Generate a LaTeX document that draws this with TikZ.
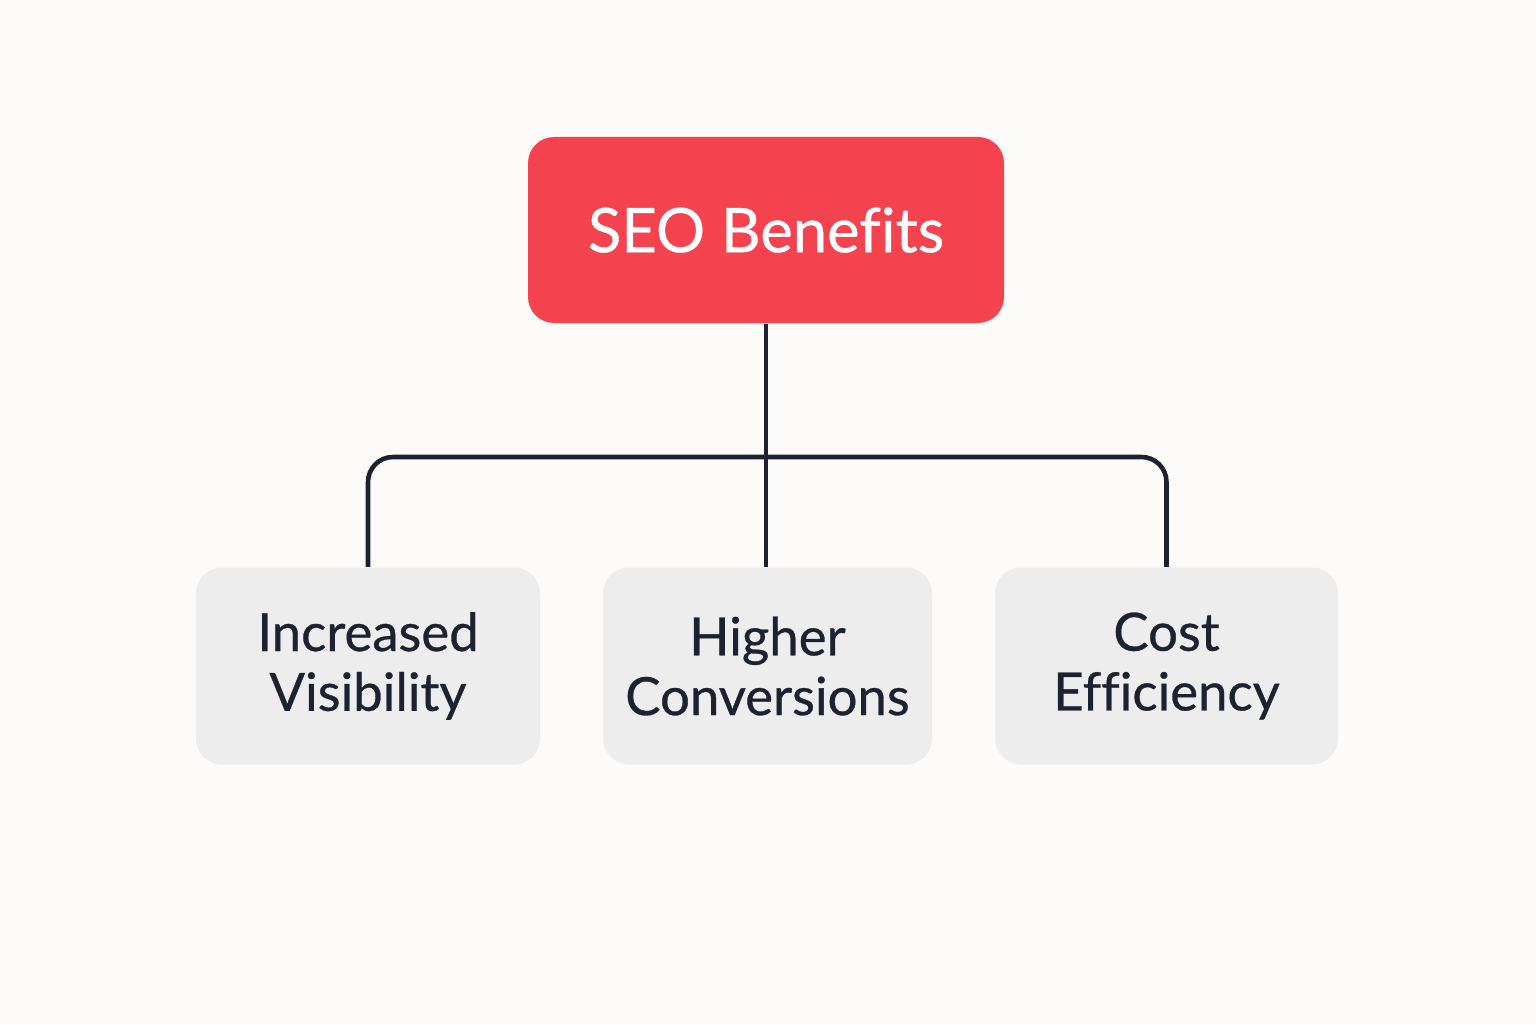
\documentclass[tikz,border=0pt]{standalone}
\usepackage{fontspec}
\setmainfont{Lato}[FakeBold=0.6, Ligatures=NoCommon]
\usetikzlibrary{positioning}
\definecolor{seored}{HTML}{F4434F}
\definecolor{boxgray}{HTML}{EDEDED}
\definecolor{inkdark}{HTML}{1C2230}
\definecolor{paper}{HTML}{FCFBF9}
\begin{document}
\begin{tikzpicture}
	\tikzset{
		topbox/.style={fill=seored, rounded corners=0.26cm, minimum width=4.76cm, minimum height=1.86cm, text=white, font=\fontsize{17.5}{20}\selectfont},
		benefit/.style={fill=boxgray, rounded corners=0.26cm, minimum height=1.97cm, text=inkdark, align=center, font=\fontsize{15}{17}\selectfont},
		link/.style={draw=inkdark, line width=1.3pt, rounded corners=0.25cm}
	}

	\fill[paper] (0,0) rectangle (15.36,10.24);
	\useasboundingbox (0,0) rectangle (15.36,10.24);

	\node[topbox] (seo) at (7.66,7.94) {SEO Benefits};

	\node[benefit, minimum width=3.44cm] (visib) at (3.68,3.58) {Increased\\Visibility};
	\node[benefit, minimum width=3.29cm] (conv) at (7.675,3.58) {Higher\\Conversions};
	\node[benefit, minimum width=3.43cm] (cost) at (11.665,3.58) {Cost\\Efficiency};

	\coordinate (bar) at (7.66,5.67);

	\draw[link] (seo.south) -- (seo.south |- conv.north);
	\draw[link] (visib.north) |- (bar) -| (cost.north);

\end{tikzpicture}
\end{document}
